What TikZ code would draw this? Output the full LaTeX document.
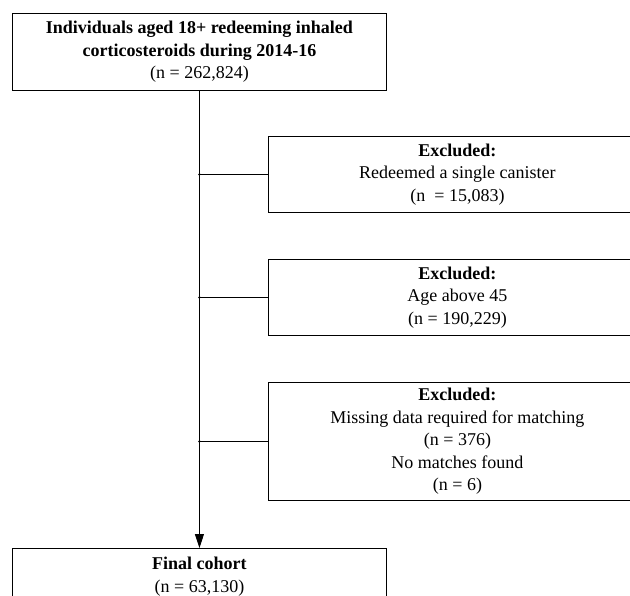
\documentclass[tikz,border=0pt]{standalone}
\usepackage{fontspec}
\setmainfont{Liberation Serif}
\usetikzlibrary{arrows.meta,positioning,calc}

\begin{document}
\begin{tikzpicture}[x=1pt, y=-1pt, >={Triangle[length=14pt,width=9pt]},
  flowbox/.style={draw, line width=0.9pt, align=center, inner sep=0pt,
    anchor=north west, font=\fontsize{18}{22.5}\selectfont},
  branch/.style={circle, fill, inner sep=0pt, minimum size=2.6pt}]

  \useasboundingbox (0,0) rectangle (630,596);
  \clip (0,0) rectangle (630,596);

  % Main stream
  \node[flowbox, minimum width=374pt, minimum height=77pt] (start) at (12,13)
    {\textbf{Individuals aged 18+ redeeming inhaled}\\
     \textbf{corticosteroids during 2014-16}\\(n = 262,824)};
  \node[flowbox, minimum width=374pt, minimum height=56pt] (final) at (12,548)
    {\textbf{Final cohort}\\(n = 63,130)};

  % Exclusions
  \node[flowbox, minimum width=378pt, minimum height=76pt] (ex1) at (268,136)
    {\textbf{Excluded:}\\Redeemed a single canister\\(n\ \ = 15,083)};
  \node[flowbox, minimum width=378pt, minimum height=76pt] (ex2) at (268,259)
    {\textbf{Excluded:}\\Age above 45\\(n = 190,229)};
  \node[flowbox, minimum width=378pt, minimum height=118pt] (ex3) at (268,382)
    {\textbf{Excluded:}\\Missing data required for matching\\(n = 376)\\
     No matches found\\(n = 6)};

  \draw[line width=0.9pt, ->] (start.south) -- (final.north);
  \foreach \b in {ex1,ex2,ex3}
    \draw[line width=0.9pt] (start.south |- \b.west) node[branch] (j\b) {} -- (\b.west);
\end{tikzpicture}
\end{document}
